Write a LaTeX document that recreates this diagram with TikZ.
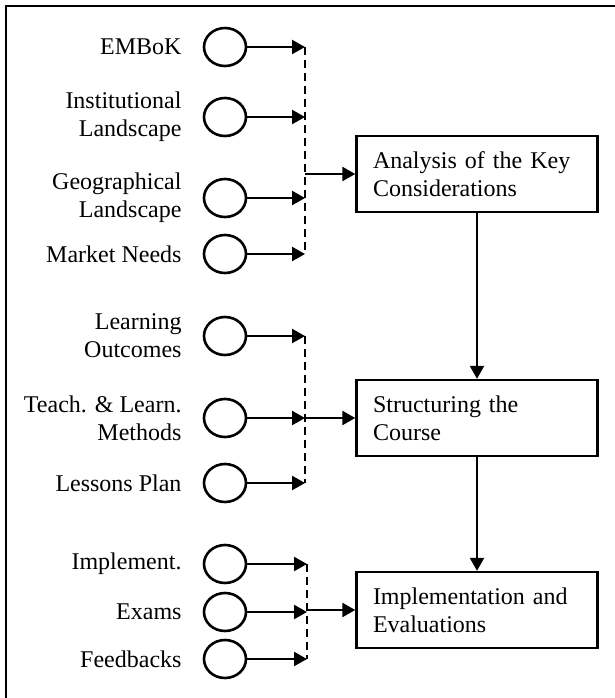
\documentclass[tikz,border=0pt]{standalone}
\usepackage{fontspec}
\setmainfont{Liberation Serif}
\usetikzlibrary{arrows.meta,positioning,shapes.geometric}

\begin{document}
\begin{tikzpicture}[
  x=0.5pt, y=-0.5pt,
  line width=1.2pt,
  font=\fontsize{12}{14}\selectfont,
  src/.style={draw, ellipse, line width=1.3pt, minimum width=21pt, minimum height=19pt, inner sep=0pt},
  lbl/.style={align=right, inner sep=0pt, left=10pt of #1},
  box/.style={draw, align=left, text width=104pt, inner xsep=8.25pt, minimum height=38pt},
  bus/.style={dash pattern=on 4pt off 2.5pt},
  >={Triangle[length=6.5pt,width=7pt]}
]
  \useasboundingbox (0,0) rectangle (615,698);
  \draw (615,6) -- (6,6) -- (6,698);

  % the three stages
  \node[box] (analysis) at (477,174) {Analysis of the Key\\Considerations};
  \node[box] (course) at (477,418) {Structuring the\\Course};
  \node[box] (impl) at (477,610) {Implementation and\\Evaluations};
  \draw[->] (analysis) -- (course);
  \draw[->] (course) -- (impl);

  % inputs
  \node[src] (embok) at (225,47) {};
  \node[src] (inst) at (225,117) {};
  \node[src] (geo) at (225,198) {};
  \node[src] (market) at (225,254) {};
  \node[src] (outcomes) at (225,336) {};
  \node[src] (methods) at (225,418) {};
  \node[src] (plan) at (225,483) {};
  \node[src] (implement) at (225,564) {};
  \node[src] (exams) at (225,612) {};
  \node[src] (feedback) at (225,659) {};

  \node[lbl=embok] {EMBoK};
  \node[lbl=inst] {Institutional\\Landscape};
  \node[lbl=geo] {Geographical\\Landscape};
  \node[lbl=market] {Market Needs};
  \node[lbl=outcomes] {Learning\\Outcomes};
  \node[lbl=methods] {Teach. \& Learn.\\Methods};
  \node[lbl=plan] {Lessons Plan};
  \node[lbl=implement] {Implement.};
  \node[lbl=exams] {Exams};
  \node[lbl=feedback] {Feedbacks};

  % dashed collectors
  \coordinate (busA) at (305,0);
  \coordinate (busB) at (305,0);
  \coordinate (busC) at (307,0);
  \draw[bus] (embok -| busA) -- (market -| busA);
  \draw[bus] (outcomes -| busB) -- (plan -| busB);
  \draw[bus] (implement -| busC) -- (feedback -| busC);

  \foreach \s in {embok, inst, geo, market}
    \draw[->] (\s) -- (\s -| busA);
  \foreach \s in {outcomes, methods, plan}
    \draw[->] (\s) -- (\s -| busB);
  \foreach \s in {implement, exams, feedback}
    \draw[->] (\s) -- (\s -| busC);

  \draw[->] (analysis.west -| busA) -- (analysis.west);
  \draw[->] (course.west -| busB) -- (course.west);
  \draw[->] (impl.west -| busC) -- (impl.west);
\end{tikzpicture}
\end{document}
